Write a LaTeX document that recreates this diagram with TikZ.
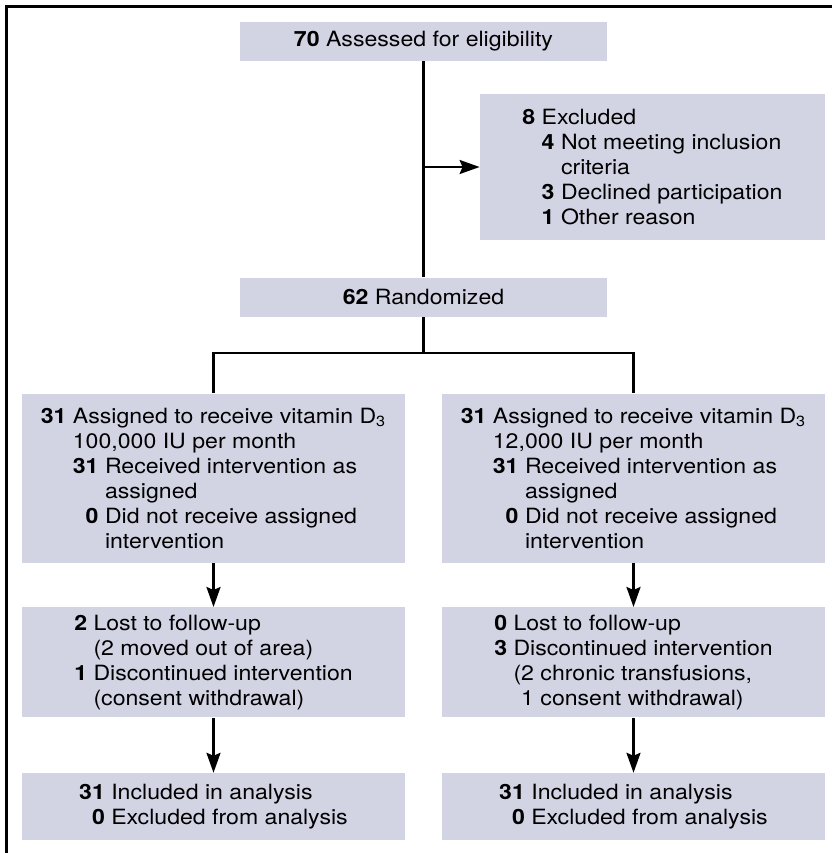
\documentclass[tikz,border=0pt]{standalone}
\usepackage{fontspec}
\setmainfont{TeX Gyre Heros}[FakeStretch=1.1]
\usetikzlibrary{arrows.meta,positioning}
\definecolor{boxfill}{RGB}{210,212,228}
\newcommand{\gap}[1]{\phantom{\textbf{#1}\ }}

\begin{document}
\begin{tikzpicture}[
      mybox/.style={
         fill=boxfill,
         inner sep=0pt,
         align=left,
         minimum width=191.5pt,
         font=\fontsize{10.5}{12.5}\selectfont},
      myline/.style={line width=1.2pt},
      myarrow/.style={line width=1.2pt,-{Stealth[length=10pt,width=7pt,inset=1.5pt]}},
      node distance=22pt
      ]
      \useasboundingbox (0,0) rectangle (416pt,-426.5pt);
      \draw[line width=1.5pt] (3pt,-426.5pt) -- (3pt,-3pt) -- (416pt,-3pt);

      \node[mybox, minimum width=183.5pt, minimum height=19.5pt] (assess) at (211.75pt,-20.75pt)
         {\textbf{70} Assessed for eligibility};
      \node[mybox, minimum width=183.5pt, minimum height=19.5pt, below=108pt of assess] (rand)
         {\textbf{62} Randomized};
      \node[mybox, minimum width=172.5pt, minimum height=73pt] (excl) at (326.25pt,-83.5pt)
         {\textbf{8} Excluded\\
          \gap{8}\textbf{4} Not meeting inclusion\\
          \gap{8}\gap{4}criteria\\
          \gap{8}\textbf{3} Declined participation\\
          \gap{8}\textbf{1} Other reason};

      \node[mybox, minimum height=84.5pt, below=38pt of rand, xshift=-105pt] (high1)
         {\textbf{31} Assigned to receive vitamin D\textsubscript{3}\\
          \gap{31}100,000 IU per month\\
          \gap{31}\textbf{31} Received intervention as\\
          \gap{31}\gap{31}assigned\\
          \gap{31}\phantom{\textbf{3}}\textbf{0} Did not receive assigned\\
          \gap{31}\gap{31}intervention};
      \node[mybox, minimum height=84.5pt, below=38pt of rand, xshift=105pt] (low1)
         {\textbf{31} Assigned to receive vitamin D\textsubscript{3}\\
          \gap{31}12,000 IU per month\\
          \gap{31}\textbf{31} Received intervention as\\
          \gap{31}\gap{31}assigned\\
          \gap{31}\phantom{\textbf{3}}\textbf{0} Did not receive assigned\\
          \gap{31}\gap{31}intervention};

      \node[mybox, minimum height=55pt, below=of high1] (high2)
         {\textbf{2} Lost to follow-up\\
          \gap{2}(2 moved out of area)\\
          \textbf{1} Discontinued intervention\\
          \gap{1}(consent withdrawal)};
      \node[mybox, minimum height=55pt, below=of low1] (low2)
         {\textbf{0} Lost to follow-up\\
          \textbf{3} Discontinued intervention\\
          \gap{3}(2 chronic transfusions,\\
          \gap{3}\phantom{(}1 consent withdrawal)};

      \node[mybox, minimum height=33.5pt, below=27.5pt of high2] (high3)
         {\textbf{31} Included in analysis\\
          \phantom{\textbf{3}}\textbf{0} Excluded from analysis};
      \node[mybox, minimum height=33.5pt, below=27.5pt of low2] (low3)
         {\textbf{31} Included in analysis\\
          \phantom{\textbf{3}}\textbf{0} Excluded from analysis};

      % connectors
      \coordinate (split) at (assess.south |- excl.west);
      \coordinate (fork) at ([yshift=-18pt]rand.south);
      \draw[myline] (assess) -- (rand);
      \draw[myarrow] (split) -- (excl);
      \draw[myline] (rand) -- (fork);
      \draw[myline] (high1.north) |- (fork) -| (low1.north);

      \foreach \i/\j in {high1/high2, high2/high3, low1/low2, low2/low3}
         \draw[myarrow] (\i) -- (\j);
\end{tikzpicture}
\end{document}
